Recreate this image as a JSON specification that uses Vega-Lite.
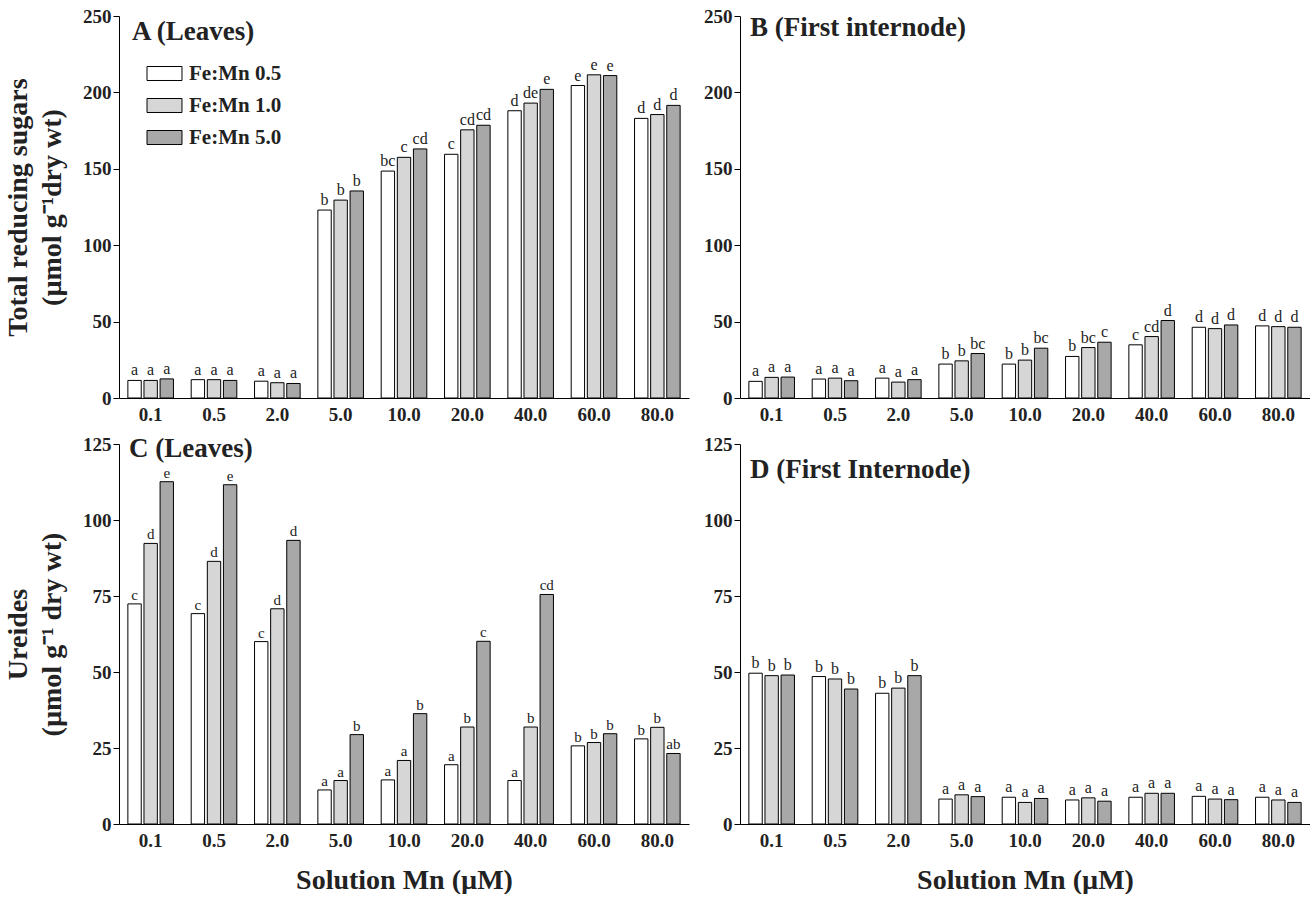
{
  "$schema": "https://vega.github.io/schema/vega-lite/v6.json",
  "padding": {"left": 4, "top": 7, "right": 0, "bottom": 0},
  "background": "white",
  "datasets": {
    "bars": [
      {"p":"A","mn":"0.1","r":"Fe:Mn 0.5","v":11.5,"l":"a"},{"p":"A","mn":"0.1","r":"Fe:Mn 1.0","v":11.5,"l":"a"},{"p":"A","mn":"0.1","r":"Fe:Mn 5.0","v":12.5,"l":"a"},
      {"p":"A","mn":"0.5","r":"Fe:Mn 0.5","v":12,"l":"a"},{"p":"A","mn":"0.5","r":"Fe:Mn 1.0","v":12,"l":"a"},{"p":"A","mn":"0.5","r":"Fe:Mn 5.0","v":11.5,"l":"a"},
      {"p":"A","mn":"2.0","r":"Fe:Mn 0.5","v":11,"l":"a"},{"p":"A","mn":"2.0","r":"Fe:Mn 1.0","v":10,"l":"a"},{"p":"A","mn":"2.0","r":"Fe:Mn 5.0","v":9.5,"l":"a"},
      {"p":"A","mn":"5.0","r":"Fe:Mn 0.5","v":123,"l":"b"},{"p":"A","mn":"5.0","r":"Fe:Mn 1.0","v":129.5,"l":"b"},{"p":"A","mn":"5.0","r":"Fe:Mn 5.0","v":135.5,"l":"b"},
      {"p":"A","mn":"10.0","r":"Fe:Mn 0.5","v":148.5,"l":"bc"},{"p":"A","mn":"10.0","r":"Fe:Mn 1.0","v":157.5,"l":"c"},{"p":"A","mn":"10.0","r":"Fe:Mn 5.0","v":163,"l":"cd"},
      {"p":"A","mn":"20.0","r":"Fe:Mn 0.5","v":159.5,"l":"c"},{"p":"A","mn":"20.0","r":"Fe:Mn 1.0","v":175.5,"l":"cd"},{"p":"A","mn":"20.0","r":"Fe:Mn 5.0","v":178.5,"l":"cd"},
      {"p":"A","mn":"40.0","r":"Fe:Mn 0.5","v":188,"l":"d"},{"p":"A","mn":"40.0","r":"Fe:Mn 1.0","v":193,"l":"de"},{"p":"A","mn":"40.0","r":"Fe:Mn 5.0","v":202,"l":"e"},
      {"p":"A","mn":"60.0","r":"Fe:Mn 0.5","v":204.5,"l":"e"},{"p":"A","mn":"60.0","r":"Fe:Mn 1.0","v":211.5,"l":"e"},{"p":"A","mn":"60.0","r":"Fe:Mn 5.0","v":211,"l":"e"},
      {"p":"A","mn":"80.0","r":"Fe:Mn 0.5","v":183,"l":"d"},{"p":"A","mn":"80.0","r":"Fe:Mn 1.0","v":185.5,"l":"d"},{"p":"A","mn":"80.0","r":"Fe:Mn 5.0","v":191.5,"l":"d"},

      {"p":"B","mn":"0.1","r":"Fe:Mn 0.5","v":10.9,"l":"a"},{"p":"B","mn":"0.1","r":"Fe:Mn 1.0","v":13.5,"l":"a"},{"p":"B","mn":"0.1","r":"Fe:Mn 5.0","v":13.7,"l":"a"},
      {"p":"B","mn":"0.5","r":"Fe:Mn 0.5","v":12.4,"l":"a"},{"p":"B","mn":"0.5","r":"Fe:Mn 1.0","v":13,"l":"a"},{"p":"B","mn":"0.5","r":"Fe:Mn 5.0","v":11.3,"l":"a"},
      {"p":"B","mn":"2.0","r":"Fe:Mn 0.5","v":13,"l":"a"},{"p":"B","mn":"2.0","r":"Fe:Mn 1.0","v":10.4,"l":"a"},{"p":"B","mn":"2.0","r":"Fe:Mn 5.0","v":12,"l":"a"},
      {"p":"B","mn":"5.0","r":"Fe:Mn 0.5","v":22.2,"l":"b"},{"p":"B","mn":"5.0","r":"Fe:Mn 1.0","v":24.3,"l":"b"},{"p":"B","mn":"5.0","r":"Fe:Mn 5.0","v":29.1,"l":"bc"},
      {"p":"B","mn":"10.0","r":"Fe:Mn 0.5","v":22.2,"l":"b"},{"p":"B","mn":"10.0","r":"Fe:Mn 1.0","v":24.8,"l":"b"},{"p":"B","mn":"10.0","r":"Fe:Mn 5.0","v":32.6,"l":"bc"},
      {"p":"B","mn":"20.0","r":"Fe:Mn 0.5","v":27.2,"l":"b"},{"p":"B","mn":"20.0","r":"Fe:Mn 1.0","v":33,"l":"bc"},{"p":"B","mn":"20.0","r":"Fe:Mn 5.0","v":36.5,"l":"c"},
      {"p":"B","mn":"40.0","r":"Fe:Mn 0.5","v":34.8,"l":"c"},{"p":"B","mn":"40.0","r":"Fe:Mn 1.0","v":40.2,"l":"cd"},{"p":"B","mn":"40.0","r":"Fe:Mn 5.0","v":50.7,"l":"d"},
      {"p":"B","mn":"60.0","r":"Fe:Mn 0.5","v":46.3,"l":"d"},{"p":"B","mn":"60.0","r":"Fe:Mn 1.0","v":45.4,"l":"d"},{"p":"B","mn":"60.0","r":"Fe:Mn 5.0","v":47.8,"l":"d"},
      {"p":"B","mn":"80.0","r":"Fe:Mn 0.5","v":47.2,"l":"d"},{"p":"B","mn":"80.0","r":"Fe:Mn 1.0","v":46.7,"l":"d"},{"p":"B","mn":"80.0","r":"Fe:Mn 5.0","v":46.3,"l":"d"},

      {"p":"C","mn":"0.1","r":"Fe:Mn 0.5","v":72.4,"l":"c"},{"p":"C","mn":"0.1","r":"Fe:Mn 1.0","v":92.3,"l":"d"},{"p":"C","mn":"0.1","r":"Fe:Mn 5.0","v":112.6,"l":"e"},
      {"p":"C","mn":"0.5","r":"Fe:Mn 0.5","v":69.2,"l":"c"},{"p":"C","mn":"0.5","r":"Fe:Mn 1.0","v":86.4,"l":"d"},{"p":"C","mn":"0.5","r":"Fe:Mn 5.0","v":111.6,"l":"e"},
      {"p":"C","mn":"2.0","r":"Fe:Mn 0.5","v":60.0,"l":"c"},{"p":"C","mn":"2.0","r":"Fe:Mn 1.0","v":70.8,"l":"d"},{"p":"C","mn":"2.0","r":"Fe:Mn 5.0","v":93.3,"l":"d"},
      {"p":"C","mn":"5.0","r":"Fe:Mn 0.5","v":11.2,"l":"a"},{"p":"C","mn":"5.0","r":"Fe:Mn 1.0","v":14.3,"l":"a"},{"p":"C","mn":"5.0","r":"Fe:Mn 5.0","v":29.4,"l":"b"},
      {"p":"C","mn":"10.0","r":"Fe:Mn 0.5","v":14.5,"l":"a"},{"p":"C","mn":"10.0","r":"Fe:Mn 1.0","v":20.9,"l":"a"},{"p":"C","mn":"10.0","r":"Fe:Mn 5.0","v":36.3,"l":"b"},
      {"p":"C","mn":"20.0","r":"Fe:Mn 0.5","v":19.5,"l":"a"},{"p":"C","mn":"20.0","r":"Fe:Mn 1.0","v":31.9,"l":"b"},{"p":"C","mn":"20.0","r":"Fe:Mn 5.0","v":60.1,"l":"c"},
      {"p":"C","mn":"40.0","r":"Fe:Mn 0.5","v":14.3,"l":"a"},{"p":"C","mn":"40.0","r":"Fe:Mn 1.0","v":31.9,"l":"b"},{"p":"C","mn":"40.0","r":"Fe:Mn 5.0","v":75.5,"l":"cd"},
      {"p":"C","mn":"60.0","r":"Fe:Mn 0.5","v":25.7,"l":"b"},{"p":"C","mn":"60.0","r":"Fe:Mn 1.0","v":26.8,"l":"b"},{"p":"C","mn":"60.0","r":"Fe:Mn 5.0","v":29.7,"l":"b"},
      {"p":"C","mn":"80.0","r":"Fe:Mn 0.5","v":28.0,"l":"b"},{"p":"C","mn":"80.0","r":"Fe:Mn 1.0","v":31.8,"l":"b"},{"p":"C","mn":"80.0","r":"Fe:Mn 5.0","v":23.2,"l":"ab"},

      {"p":"D","mn":"0.1","r":"Fe:Mn 0.5","v":49.6,"l":"b"},{"p":"D","mn":"0.1","r":"Fe:Mn 1.0","v":48.8,"l":"b"},{"p":"D","mn":"0.1","r":"Fe:Mn 5.0","v":49.0,"l":"b"},
      {"p":"D","mn":"0.5","r":"Fe:Mn 0.5","v":48.5,"l":"b"},{"p":"D","mn":"0.5","r":"Fe:Mn 1.0","v":47.7,"l":"b"},{"p":"D","mn":"0.5","r":"Fe:Mn 5.0","v":44.4,"l":"b"},
      {"p":"D","mn":"2.0","r":"Fe:Mn 0.5","v":43.0,"l":"b"},{"p":"D","mn":"2.0","r":"Fe:Mn 1.0","v":44.7,"l":"b"},{"p":"D","mn":"2.0","r":"Fe:Mn 5.0","v":48.8,"l":"b"},
      {"p":"D","mn":"5.0","r":"Fe:Mn 0.5","v":8.2,"l":"a"},{"p":"D","mn":"5.0","r":"Fe:Mn 1.0","v":9.6,"l":"a"},{"p":"D","mn":"5.0","r":"Fe:Mn 5.0","v":9.0,"l":"a"},
      {"p":"D","mn":"10.0","r":"Fe:Mn 0.5","v":8.8,"l":"a"},{"p":"D","mn":"10.0","r":"Fe:Mn 1.0","v":7.1,"l":"a"},{"p":"D","mn":"10.0","r":"Fe:Mn 5.0","v":8.4,"l":"a"},
      {"p":"D","mn":"20.0","r":"Fe:Mn 0.5","v":7.9,"l":"a"},{"p":"D","mn":"20.0","r":"Fe:Mn 1.0","v":8.6,"l":"a"},{"p":"D","mn":"20.0","r":"Fe:Mn 5.0","v":7.5,"l":"a"},
      {"p":"D","mn":"40.0","r":"Fe:Mn 0.5","v":8.8,"l":"a"},{"p":"D","mn":"40.0","r":"Fe:Mn 1.0","v":10.1,"l":"a"},{"p":"D","mn":"40.0","r":"Fe:Mn 5.0","v":10.1,"l":"a"},
      {"p":"D","mn":"60.0","r":"Fe:Mn 0.5","v":9.1,"l":"a"},{"p":"D","mn":"60.0","r":"Fe:Mn 1.0","v":8.2,"l":"a"},{"p":"D","mn":"60.0","r":"Fe:Mn 5.0","v":8.0,"l":"a"},
      {"p":"D","mn":"80.0","r":"Fe:Mn 0.5","v":8.8,"l":"a"},{"p":"D","mn":"80.0","r":"Fe:Mn 1.0","v":7.9,"l":"a"},{"p":"D","mn":"80.0","r":"Fe:Mn 5.0","v":7.1,"l":"a"}
    ]
  },
  "columns": 2,
  "align": "each",
  "spacing": {"row": 11, "column": 14},
  "resolve": {"legend": {"fill": "independent"}},
  "concat": [
    {
      "width": 570, "height": 382,
      "data": {"name": "bars"},
      "transform": [{"filter": "datum.p === 'A'"}],
      "title": {"text": "A (Leaves)", "anchor": "start", "frame": "group", "dx": 13, "dy": 39, "offset": 0},
      "encoding": {
        "x": {"field": "mn", "type": "nominal", "sort": ["0.1","0.5","2.0","5.0","10.0","20.0","40.0","60.0","80.0"], "scale": {"paddingInner": 0.28, "paddingOuter": 0.14}, "axis": {"title": null}},
        "xOffset": {"field": "r", "type": "nominal", "scale": {"paddingInner": 0.17}},
        "y": {"field": "v", "type": "quantitative", "scale": {"domain": [0, 250], "nice": false}, "axis": {"values": [0,50,100,150,200,250], "title": ["Total reducing sugars", "(µmol g⁻¹dry wt)"]}}
      },
      "layer": [
        {"mark": {"type": "bar", "stroke": "black", "strokeWidth": 1},
         "encoding": {"fill": {"field": "r", "type": "nominal", "scale": {"domain": ["Fe:Mn 0.5","Fe:Mn 1.0","Fe:Mn 5.0"], "range": ["#ffffff","#d6d6d6","#a8a8a8"]},
           "legend": {"title": null, "orient": "none", "legendX": 35, "legendY": 47, "padding": 0, "symbolType": "M-2,-0.8H2V0.8H-2Z", "symbolSize": 306, "symbolStrokeColor": "black", "symbolStrokeWidth": 1, "symbolOpacity": 1, "labelOffset": 14, "rowPadding": 10, "labelFont": "Liberation Serif", "labelFontWeight": "bold", "labelFontSize": 21, "labelColor": "#222"}}}},
        {"mark": {"type": "text", "baseline": "alphabetic", "dy": -5, "fontSize": 16, "color": "#222"}, "encoding": {"text": {"field": "l"}}}
      ]
    },
    {
      "width": 570, "height": 382,
      "data": {"name": "bars"},
      "transform": [{"filter": "datum.p === 'B'"}],
      "title": {"text": "B (First internode)", "anchor": "start", "frame": "group", "dx": 10, "dy": 35, "offset": 0},
      "encoding": {
        "x": {"field": "mn", "type": "nominal", "sort": ["0.1","0.5","2.0","5.0","10.0","20.0","40.0","60.0","80.0"], "scale": {"paddingInner": 0.28, "paddingOuter": 0.14}, "axis": {"title": null}},
        "xOffset": {"field": "r", "type": "nominal", "scale": {"paddingInner": 0.17}},
        "y": {"field": "v", "type": "quantitative", "scale": {"domain": [0, 250], "nice": false}, "axis": {"values": [0,50,100,150,200,250], "title": null}}
      },
      "layer": [
        {"mark": {"type": "bar", "stroke": "black", "strokeWidth": 1},
         "encoding": {"fill": {"field": "r", "type": "nominal", "scale": {"domain": ["Fe:Mn 0.5","Fe:Mn 1.0","Fe:Mn 5.0"], "range": ["#ffffff","#d6d6d6","#a8a8a8"]}, "legend": null}}},
        {"mark": {"type": "text", "baseline": "alphabetic", "dy": -5, "fontSize": 16, "color": "#222"}, "encoding": {"text": {"field": "l"}}}
      ]
    },
    {
      "width": 570, "height": 380,
      "data": {"name": "bars"},
      "transform": [{"filter": "datum.p === 'C'"}],
      "title": {"text": "C (Leaves)", "anchor": "start", "frame": "group", "dx": 10, "dy": 28, "offset": 0},
      "encoding": {
        "x": {"field": "mn", "type": "nominal", "sort": ["0.1","0.5","2.0","5.0","10.0","20.0","40.0","60.0","80.0"], "scale": {"paddingInner": 0.28, "paddingOuter": 0.14}, "axis": {"title": "Solution Mn (µM)"}},
        "xOffset": {"field": "r", "type": "nominal", "scale": {"paddingInner": 0.17}},
        "y": {"field": "v", "type": "quantitative", "scale": {"domain": [0, 125], "nice": false}, "axis": {"values": [0,25,50,75,100,125], "title": ["Ureides", "(µmol g⁻¹ dry wt)"]}}
      },
      "layer": [
        {"mark": {"type": "bar", "stroke": "black", "strokeWidth": 1},
         "encoding": {"fill": {"field": "r", "type": "nominal", "scale": {"domain": ["Fe:Mn 0.5","Fe:Mn 1.0","Fe:Mn 5.0"], "range": ["#ffffff","#d6d6d6","#a8a8a8"]}, "legend": null}}},
        {"mark": {"type": "text", "baseline": "alphabetic", "dy": -4, "fontSize": 15, "color": "#222"}, "encoding": {"text": {"field": "l"}}}
      ]
    },
    {
      "width": 570, "height": 380,
      "data": {"name": "bars"},
      "transform": [{"filter": "datum.p === 'D'"}],
      "title": {"text": "D (First Internode)", "anchor": "start", "frame": "group", "dx": 10, "dy": 49, "offset": 0},
      "encoding": {
        "x": {"field": "mn", "type": "nominal", "sort": ["0.1","0.5","2.0","5.0","10.0","20.0","40.0","60.0","80.0"], "scale": {"paddingInner": 0.28, "paddingOuter": 0.14}, "axis": {"title": "Solution Mn (µM)"}},
        "xOffset": {"field": "r", "type": "nominal", "scale": {"paddingInner": 0.17}},
        "y": {"field": "v", "type": "quantitative", "scale": {"domain": [0, 125], "nice": false}, "axis": {"values": [0,25,50,75,100,125], "title": null}}
      },
      "layer": [
        {"mark": {"type": "bar", "stroke": "black", "strokeWidth": 1},
         "encoding": {"fill": {"field": "r", "type": "nominal", "scale": {"domain": ["Fe:Mn 0.5","Fe:Mn 1.0","Fe:Mn 5.0"], "range": ["#ffffff","#d6d6d6","#a8a8a8"]}, "legend": null}}},
        {"mark": {"type": "text", "baseline": "alphabetic", "dy": -5, "fontSize": 16, "color": "#222"}, "encoding": {"text": {"field": "l"}}}
      ]
    }
  ],
  "config": {
    "font": "Liberation Serif",
    "view": {"stroke": null},
    "title": {"font": "Liberation Serif", "fontSize": 27, "fontWeight": "bold", "color": "#222"},
    "axis": {"grid": false, "domainColor": "black", "tickColor": "black", "labelFont": "Liberation Serif", "labelFontWeight": "bold", "labelFontSize": 19, "labelColor": "#222", "titleFont": "Liberation Serif", "titleFontWeight": "bold", "titleFontSize": 28, "titleColor": "#222"},
    "axisX": {"ticks": false, "labelAngle": 0, "labelPadding": 7, "titlePadding": 16},
    "axisY": {"tickSize": 6, "labelPadding": 2, "titlePadding": 16, "titleLineHeight": 34}
  }
}
